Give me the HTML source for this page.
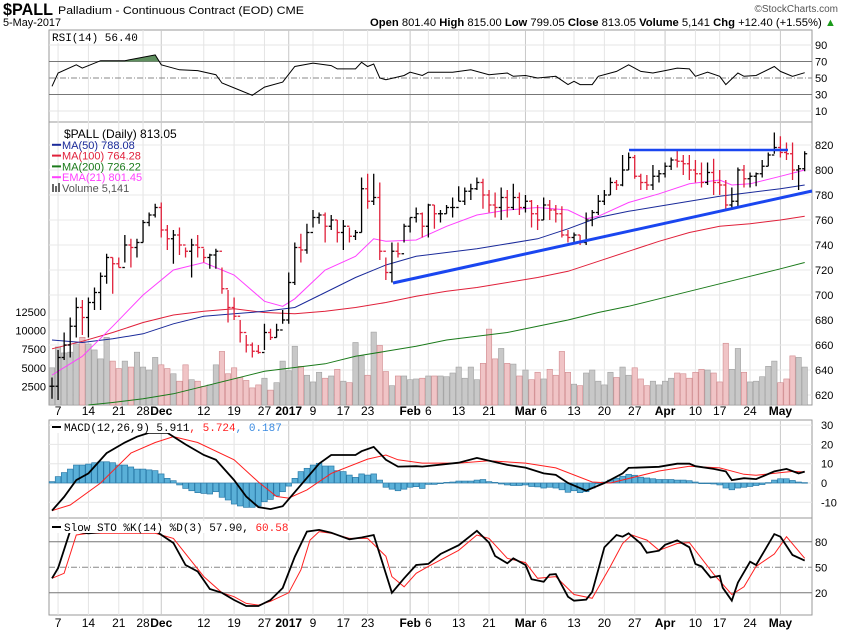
<!DOCTYPE html>
<html><head><meta charset="utf-8"><style>
body{margin:0;background:#fff}
svg{display:block;font-family:"Liberation Sans",sans-serif}
</style></head><body>
<svg id="c" width="850" height="633" viewBox="0 0 850 633">
<text x="3" y="15" font-size="17" font-weight="bold" textLength="50" lengthAdjust="spacingAndGlyphs">$PALL</text>
<text x="58" y="14" font-size="11" textLength="246" lengthAdjust="spacingAndGlyphs">Palladium - Continuous Contract (EOD) CME</text>
<text x="3" y="26" font-size="11" textLength="58" lengthAdjust="spacingAndGlyphs">5-May-2017</text>
<text x="838" y="12" font-size="10" fill="#555" text-anchor="end">©StockCharts.com</text>
<text x="370" y="26" font-size="11" textLength="466" lengthAdjust="spacingAndGlyphs"><tspan font-weight="bold">Open</tspan> 801.40 <tspan font-weight="bold">High</tspan> 815.00 <tspan font-weight="bold">Low</tspan> 799.05 <tspan font-weight="bold">Close</tspan> 813.05 <tspan font-weight="bold">Volume</tspan> 5,141 <tspan font-weight="bold">Chg</tspan> +12.40 (+1.55%) <tspan fill="#1a9a1a">▲</tspan></text>
<g id="g"></g>
</svg>
<script>
const hi=[634,656,670,682,698,696,698,706,718,733,730,730,748,745,745,760,766,773,774,756,752,754,738,745,748,737,733,737,722,704,698,680,668,662,660,677,673,677,688,718,742,749,757,768,766,766,764,760,760,754,752,794,797,797,790,730,742,742,757,762,770,766,773,772,768,772,778,787,786,789,794,793,784,782,786,784,789,782,780,776,772,778,776,772,771,752,750,748,766,768,780,784,794,792,812,814,812,797,796,804,800,806,810,816,812,812,808,806,806,809,800,792,786,802,804,798,798,808,814,830,827,822,822,804,815];
const lo=[617,616,648,650,666,668,666,688,688,709,701,722,726,722,730,742,755,762,746,736,725,732,730,714,730,726,721,721,701,678,680,662,654,650,653,656,664,666,677,677,708,726,733,754,757,742,752,742,736,742,744,750,769,772,728,712,710,730,742,750,758,746,746,753,758,765,762,775,772,776,784,769,766,762,760,762,768,764,766,754,752,760,760,758,746,742,742,740,740,755,764,772,780,784,787,800,793,784,784,784,790,794,800,802,796,792,790,786,788,780,780,768,768,770,786,786,787,794,803,813,810,808,792,784,799];
const cl=[627,650,660,675,690,682,694,702,715,730,725,722,740,738,742,758,764,770,752,745,748,740,735,740,738,730,732,735,705,690,683,670,660,655,654,670,666,672,680,710,738,736,750,762,764,755,760,750,755,747,750,785,775,778,735,718,735,733,755,762,765,755,772,765,765,770,770,775,783,785,790,780,772,770,778,770,778,770,775,765,760,772,768,765,748,746,748,742,760,766,775,780,790,788,800,810,795,790,788,795,797,803,808,807,805,800,797,790,798,790,788,772,775,800,793,795,797,803,812,818,814,813,800,801,813];
const vol=[5000,7800,7000,7100,8200,9100,8200,7400,6200,9100,5900,4900,5900,5100,7100,5100,4700,6400,5400,4900,4200,3200,5400,3400,3200,2500,2700,5400,7200,4200,5000,3700,3300,2300,2700,3600,2000,3000,5900,4600,7900,5200,4000,3100,4400,3600,3900,4800,3200,3000,8400,6600,4000,9800,8000,4500,2600,3900,3900,3400,3500,3600,3900,3900,3900,3800,4300,5100,3600,5100,3400,5600,10200,6200,7600,5600,5500,3900,4700,3400,4400,3500,4800,4000,7200,4400,2800,2600,4300,4700,3200,2700,4400,3700,5100,4000,5000,3500,2600,3200,2700,3200,3600,4300,4200,3600,4400,4800,4700,4300,3100,8300,4800,7600,4400,3100,3200,3800,5200,5900,3000,3500,6600,6400,5100];
const maIdx=[0,5,10,15,20,25,30,35,40,45,50,55,60,65,70,75,80,85,90,95,100,105,110,115,120,124];
const ma50=[664,662,665,669,677,683,685,687,690,702,714,724,731,734,737,741,745,753,762,767,771,775,779,782,785,788];
const ma100=[657,663,670,678,684,687,689,686,685,687,690,694,699,703,706,710,714,719,727,735,743,750,755,757,760,763];
const ma200Idx=[6,10,15,20,25,30,35,40,45,50,55,60,65,70,75,80,85,90,95,100,105,110,115,120,124];
const ma200=[612,614,617,621,627,633,639,642,645,651,655,659,664,667,670,675,680,686,691,697,703,709,715,721,726];
const emaIdx=[0,5,10,15,20,25,30,35,38,40,45,50,53,55,60,65,70,75,80,85,88,90,95,100,105,110,112,115,120,124];
const ema21=[636,651,675,700,720,726,716,695,691,697,720,731,745,743,744,755,764,768,770,768,761,763,774,781,789,792,788,789,795,800];
const rsiIdx=[0,1,4,5,8,12,17,18,21,24,27,28,31,33,35,38,40,43,46,47,50,51,52,53,54,55,58,59,61,62,66,69,72,75,76,78,80,83,85,86,87,89,90,93,95,97,99,101,103,105,106,108,110,111,113,114,116,119,120,122,124];
const rsiVal=[40,56,66,62,71,71,78,66,60,59,54,44,35,29,39,45,64,68,65,61,61,69,64,67,50,48,53,57,53,57,57,60,54,56,52,53,50,52,42,46,42,42,52,58,66,58,56,59,62,61,52,57,52,42,56,52,53,64,58,52,56.4];
const macdIdx=[0,2,4,6,9,12,14,16,19,22,25,27,30,32,34,36,38,41,44,46,50,51,53,55,57,60,61,67,70,75,78,81,83,85,88,91,94,95,100,103,105,106,109,111,112,114,116,119,121,123,124];
const macdVal=[-14.3,-7.2,1.5,5,15.5,21,24,26,26,20,14.5,12,1.5,-7,-12.5,-13.5,-12,-1,10,14.5,14.5,16.5,18.7,12,8.5,8.7,8.5,10.5,13,9.4,8,5,4.2,0,-4,0,5,7.8,8.4,10,10,8.7,7.3,6,1.5,2.5,2,6,7.3,5,5.9];
const sigIdx=[0,3,8,13,17,20,24,30,34,37,39,42,46,52,55,57,61,67,72,78,83,89,92,100,105,110,114,116,122,124];
const sigVal=[-14.3,-11.4,0,15.5,21,24,21,12,0.5,-7,-7.8,-3.6,5,12.4,14.5,12,10.3,10.3,11.5,10.3,7.8,0.5,0,6.2,8.7,7.8,4.5,4,6,5.7];
const hist=[0.7,3.3,5.4,7.2,9.3,9.3,9.8,10.5,11,11,10.5,9.3,9.3,8.3,7.2,7.2,6.8,6.4,4.7,2.4,1.2,-1,-2.8,-4,-5,-5.4,-5.7,-4.5,-7.4,-8.8,-10.9,-11.9,-12.6,-12.6,-11.9,-9.7,-8.5,-6.7,-4.5,-1.6,2.4,5.9,7.6,9.3,10.2,8.8,8.8,6.4,5.9,4.1,2.9,4.7,4.1,4.7,1.5,-2.2,-3.2,-4,-3.2,-2.2,-1.9,-2.8,-0.7,-0.7,-0.3,0.3,0.5,1,1,1,1.5,1.8,0.7,0.3,-0.5,-1,-1.3,-1.3,-1,-1.8,-2,-2.6,-2.2,-2.6,-3.5,-4.8,-4,-5,-4.5,-2.6,-0.5,0.5,1.5,2.5,3.5,4.5,4,3,2.6,2.2,1.8,1.8,1.8,1.5,1.5,1.2,0.5,0,-0.3,-0.5,-1,-2.6,-3.5,-2.6,-2.2,-1.8,-1.3,-0.8,0.2,1.5,2.2,2.2,1.3,0.5,0.2];
const kIdx=[0,1,3,6,9,12,15,17,20,22,24,26,28,30,32,34,36,38,40,42,44,46,49,51,53,56,58,60,62,64,67,70,72,73,75,76,78,79,81,82,83,85,86,88,89,91,93,94,95,97,98,100,101,103,105,106,107,108.5,110,110.5,112,113,115,116,119,120,122,124];
const kVal=[37,49,93,90,92,92,92,93,78.6,52.7,45,24.5,20,11.5,4.5,4.5,11.5,25.6,62.5,92,94,90.7,83,85,88,20,37,52.7,54,65.6,76,93,79,63.3,54.7,60.6,52.7,36,33,41.4,42,15.4,10.7,12,21,73.5,88,86,90,78,67,69.5,76.5,81.7,73.5,54,51,38,40,26,10.7,32,56.6,52.7,89,86,64.5,57.9];
const dIdx=[0,2,4,6,9,12,15,17,20,23,25,28,30,32,34,36,39,41,42.5,44,46,49,52,55,56,58,60,62,67,70,72,75,78,80,83,86,89,92,94,95.5,98,100,103,105,107,109,112,114,116,119,121,124];
const dVal=[37,43,88,90,90,90,90,90,84,57,39,20,15.4,7.5,5.5,10,20,47,82,92,90,84,84,63,39,27,43,51,70,88,84,60.6,55.5,37,39,18,13.5,51,78,88,82,70,78,79,60.6,42,18,27,51,65.6,86,60.6];
const tickIdx=[1,6,11,15,18,25,30,35,39,43,48,52,59,62,67,72,78,81,86,91,96,101,106,110,115,120];
const tickLbl=["7","14","21","28","Dec","12","19","27","2017","9","17","23","Feb","6","13","21","Mar","6","13","20","27","Apr","10","17","24","May"];
const tickBold=[0,0,0,0,1,0,0,0,1,0,0,0,1,0,0,0,1,0,0,0,0,1,0,0,0,1];

const NS="http://www.w3.org/2000/svg",G=document.getElementById('g');
const L=49,R=812;
const X=i=>52+i*6.07;
const PY=p=>145+(820-p)*1.25, VY=v=>405-v*18.6/2500;
const RY=v=>78-(v-50)*0.825, MY=v=>483-v*1.93, SY=v=>567.3-(v-50)*0.85;
function mk(t,a,p){const e=document.createElementNS(NS,t);for(const k in a)e.setAttribute(k,a[k]);(p||G).appendChild(e);return e;}
function txt(x,y,s,a){const e=mk('text',Object.assign({x:x,y:y,'font-size':11},a||{}));e.textContent=s;return e;}
function poly(ix,vals,f,col,w,name){const pts=ix.map((i,k)=>X(i).toFixed(1)+','+f(vals[k]).toFixed(1)).join(' ');
 const e=mk('polyline',{points:pts,fill:'none',stroke:col,'stroke-width':w});
 
 return e;}
const panels=[[30,122,'rsi-panel'],[122,405,'price-panel'],[420,518,'macd-panel'],[518,615,'sto-panel']];
panels.forEach(p=>{const r=mk('rect',{x:L,y:p[0],width:R-L,height:p[1]-p[0],fill:'#fff',stroke:'#999'});
 
 });
tickIdx.forEach((ti,k)=>{[[30,122],[122,405],[420,518],[518,615]].forEach(b=>{
 const l=mk('line',{x1:X(ti),x2:X(ti),y1:b[0],y2:b[1],stroke:tickBold[k]?'#c8c8c8':'#e4e4e4'});
 
 });
 [415,627].forEach(y=>{const t=txt(X(ti),y,tickLbl[k],{'text-anchor':'middle','font-weight':tickBold[k]?'bold':'normal','font-size':12});
 
 });});
[90,10].forEach(v=>{mk('line',{x1:L,x2:R,y1:RY(v),y2:RY(v),stroke:'#e4e4e4'});txt(815,RY(v)+4,String(v));});
[70,30].forEach(v=>{mk('line',{x1:L,x2:R,y1:RY(v),y2:RY(v),stroke:'#777'});txt(815,RY(v)+4,String(v));});
mk('line',{x1:L,x2:R,y1:RY(50),y2:RY(50),stroke:'#888','stroke-dasharray':'6,2,1,2'});txt(815,RY(50)+4,'50');
const cp=mk('clipPath',{id:'ob'});mk('rect',{x:L,y:30,width:R-L,height:RY(70)-30},cp);
const fp=rsiIdx.map((i,k)=>X(i)+','+RY(rsiVal[k])).join(' ');
const fa=mk('polygon',{points:X(rsiIdx[0])+','+RY(70)+' '+fp+' '+X(124)+','+RY(70),fill:'#5f8f5f','clip-path':'url(#ob)'});


poly(rsiIdx,rsiVal,RY,'#000',1,'rsi-line');
mk('rect',{x:50,y:32,width:90,height:11,fill:'#fff'});
txt(52,41,'RSI(14) 56.40',{'font-family':'Liberation Mono, monospace','font-size':11});
for(let p=620;p<=820;p+=20){mk('line',{x1:L,x2:R,y1:PY(p),y2:PY(p),stroke:'#e8e8e8'});
 const t=txt(815,PY(p)+4,String(p));}
[2500,5000,7500,10000,12500].forEach(v=>{const t=txt(46,VY(v)+4,String(v),{'text-anchor':'end'});
 });
vol.forEach((v,i)=>{const dn=i>0&&cl[i]<cl[i-1];
 const b=mk('rect',{x:X(i)-2.7,y:VY(v),width:5.4,height:405-VY(v),fill:dn?'#f0c4c6':'#c8c8c8',stroke:dn?'#d08a8e':'#a0a0a0','stroke-width':0.6});
 
 });
poly(ma200Idx,ma200,PY,'#1a7a1a',1,'ma200-line');
poly(maIdx,ma100,PY,'#e0203a',1,'ma100-line');
poly(maIdx,ma50,PY,'#1a2a9a',1,'ma50-line');
poly(emaIdx,ema21,PY,'#ff40ff',1,'ema21-line');
cl.forEach((c,i)=>{const dn=i>0&&c<cl[i-1];const col=dn?'#e0203a':'#000';const o=i>0?cl[i-1]:c;const x=X(i);
 const g=mk('g',{stroke:col,'stroke-width':1.3});
 
 
 mk('line',{x1:x,x2:x,y1:PY(hi[i]),y2:PY(lo[i])},g);
 mk('line',{x1:x-2.5,x2:x,y1:PY(o),y2:PY(o)},g);
 mk('line',{x1:x,x2:x+2.5,y1:PY(c),y2:PY(c)},g);});
const t1=mk('line',{x1:393,y1:283,x2:812,y2:191,stroke:'#1a46f0','stroke-width':3});

const t2=mk('line',{x1:629,y1:150,x2:788,y2:150,stroke:'#1a46f0','stroke-width':2.5});

const lg=[['$PALL (Daily) 813.05','#000'],['MA(50) 788.08','#1a2a9a'],['MA(100) 764.28','#e0203a'],['MA(200) 726.22','#1a7a1a'],['EMA(21) 801.45','#ff40ff'],['Volume 5,141','#555']];
lg.forEach((l,k)=>{const y=138+k*10.8;
 if(k>0&&k<5)mk('line',{x1:52,x2:61,y1:y-4,y2:y-4,stroke:l[1],'stroke-width':2});
 if(k==5){mk('rect',{x:52,y:y-8,width:2,height:8,fill:'#666'});mk('rect',{x:55,y:y-6,width:2,height:6,fill:'#666'});mk('rect',{x:58,y:y-9,width:2,height:9,fill:'#666'});}
 const t=txt(k==0?64:62,y,l[0],{fill:l[1],'font-size':k==0?12:11});
 
 });
[30,20,10,0,-10].forEach(v=>{mk('line',{x1:L,x2:R,y1:MY(v),y2:MY(v),stroke:'#e6e6e6'});txt(821,MY(v)+4,String(v));});
hist.forEach((h,i)=>{const y=Math.min(MY(h),MY(0));const b=mk('rect',{x:X(i)-2.8,y:y,width:5.6,height:Math.max(0.6,Math.abs(MY(h)-MY(0))),fill:'#5ab0d8',stroke:'#2a7aa8','stroke-width':0.7});
 
 });
poly(sigIdx,sigVal,MY,'#ff2020',1,'macd-signal-line');
poly(macdIdx,macdVal,MY,'#000',1.8,'macd-line');
mk('rect',{x:52,y:422,width:215,height:11,fill:'#fff'});
mk('line',{x1:52,x2:61,y1:427,y2:427,stroke:'#000','stroke-width':2});
const ml=txt(64,431,'',{'font-family':'Liberation Mono, monospace','font-size':11});
ml.innerHTML='MACD(12,26,9) 5.911<tspan fill="#ff2020">, 5.724</tspan><tspan fill="#3a8ae0">, 0.187</tspan>';

[80,20].forEach(v=>{mk('line',{x1:L,x2:R,y1:SY(v),y2:SY(v),stroke:'#777'});txt(815,SY(v)+4,String(v));});
mk('line',{x1:L,x2:R,y1:SY(50),y2:SY(50),stroke:'#888','stroke-dasharray':'6,2,1,2'});txt(815,SY(50)+4,'50');
poly(dIdx,dVal,SY,'#ff2020',1,'sto-d-line');
poly(kIdx,kVal,SY,'#000',1.8,'sto-k-line');
mk('rect',{x:52,y:521,width:240,height:12,fill:'#fff'});
mk('line',{x1:52,x2:61,y1:527,y2:527,stroke:'#000','stroke-width':2});
const sl=txt(64,531,'',{'font-family':'Liberation Mono, monospace','font-size':11});
sl.innerHTML='Slow STO %K(14) %D(3) 57.90,<tspan fill="#ff2020"> 60.58</tspan>';

</script>
</body></html>
